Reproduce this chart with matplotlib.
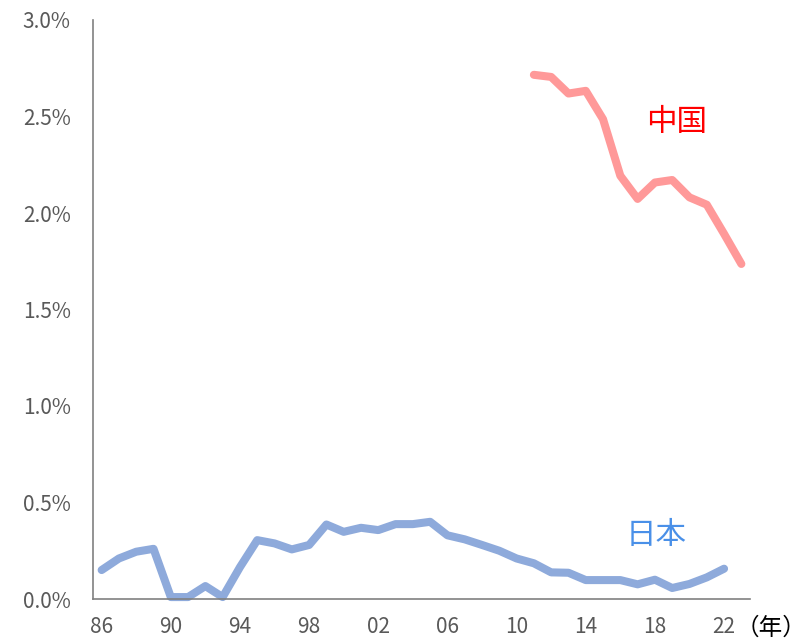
import matplotlib
matplotlib.use("Agg")
import matplotlib.pyplot as plt
from matplotlib.ticker import FuncFormatter

plt.rcParams['font.family'] = ['Noto Sans CJK JP', 'DejaVu Sans']

japan_years = list(range(1986, 2023))
japan_vals = [0.15, 0.21, 0.245, 0.26, 0.01, 0.01, 0.067, 0.01, 0.165, 0.305,
              0.288, 0.257, 0.28, 0.386, 0.348, 0.369, 0.357, 0.388, 0.388, 0.40,
              0.33, 0.309, 0.28, 0.25, 0.21, 0.185, 0.138, 0.136, 0.098, 0.098,
              0.098, 0.076, 0.10, 0.057, 0.078, 0.112, 0.157]
china_years = list(range(2011, 2024))
china_vals = [2.716, 2.705, 2.619, 2.633, 2.486, 2.193, 2.073, 2.158, 2.171,
              2.081, 2.043, 1.892, 1.736]
xtick_years = [1986, 1990, 1994, 1998, 2002, 2006, 2010, 2014, 2018, 2022]
xtick_labels = ['86', '90', '94', '98', '02', '06', '10', '14', '18', '22']
yticks = [0.0, 0.5, 1.0, 1.5, 2.0, 2.5, 3.0]

fig = plt.figure(figsize=(8.12, 6.44), dpi=100)
ax = fig.add_axes([93/812, 1-599/644, (750-93)/812, (599-20)/644])

ax.plot(japan_years, japan_vals, color='#8eaadb', lw=5.8, solid_capstyle='round',
        solid_joinstyle='round', clip_on=False)
ax.plot(china_years, china_vals, color='#ff9999', lw=5.8, solid_capstyle='round',
        solid_joinstyle='round', clip_on=False)

ax.set_xlim(1985.5, 2023.5)
ax.set_ylim(0, 3.0)
ax.set_yticks(yticks)
ax.yaxis.set_major_formatter(FuncFormatter(lambda v, p: f"{v:.1f}%"))
ax.set_xticks(xtick_years)
ax.set_xticklabels(xtick_labels)
ax.tick_params(axis='both', length=0, colors='#595959', labelsize=15)
ax.tick_params(axis='y', pad=16)
ax.tick_params(axis='x', pad=12)
for s in ['top', 'right']:
    ax.spines[s].set_visible(False)
for s in ['left', 'bottom']:
    ax.spines[s].set_color('#808080')
    ax.spines[s].set_linewidth(1.2)

ax.text(2019.27, 2.47, '中国', color='#ff0000', fontsize=22, ha='center', va='center')
ax.text(2018.05, 0.33, '日本', color='#4a90e8', fontsize=22, ha='center', va='center')
fig.text(771/812, 1-628/644, '（年）', color='#000000', fontsize=17, ha='center', va='center')

fig.savefig('out.png', dpi=100)
